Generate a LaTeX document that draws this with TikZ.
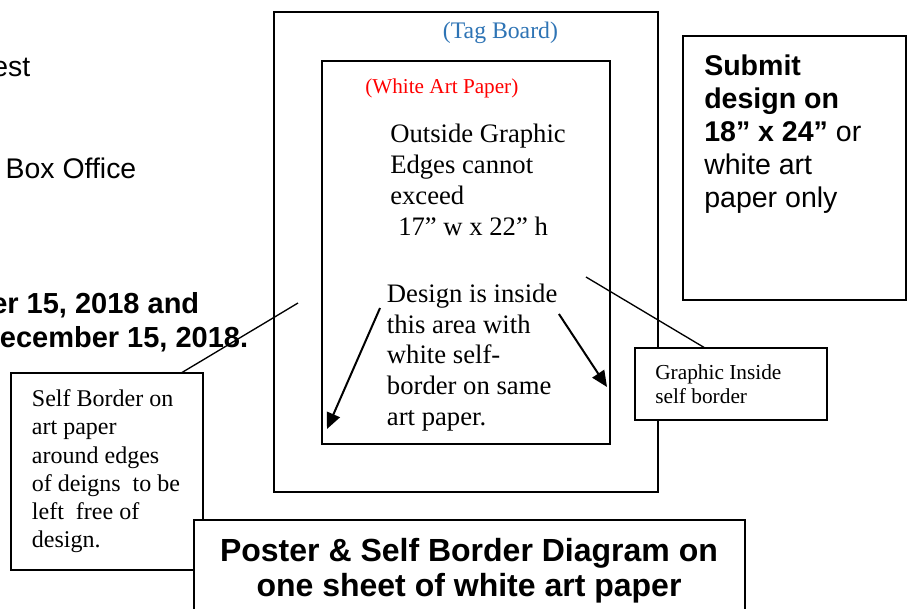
\documentclass[tikz,border=0pt]{standalone}
\usepackage{fontspec}
\setmainfont{Liberation Serif}
\newfontfamily\arialfont{Liberation Sans}
\usetikzlibrary{arrows.meta}
\definecolor{tagblue}{RGB}{46,116,181}

\tikzset{
  box/.style={draw, line width=1.5pt, fill=white, inner sep=0pt, outer sep=0pt, anchor=north west},
  note/.style={inner sep=0pt, anchor=north west, align=left},
  frag/.style={inner sep=0pt, anchor=base east, font=\arialfont\fontsize{21.3}{25}\selectfont},
  link/.style={line width=1pt},
  pointer/.style={line width=1.5pt, -{Triangle[length=12pt,width=10.5pt]}}
}

\begin{document}
\begin{tikzpicture}[x=0.75pt, y=-0.75pt]
    \useasboundingbox (0,0) rectangle (910,608);
    \clip (0,0) rectangle (910,608);

    % boards
    \node[box, minimum width=288pt, minimum height=360pt] (tag) at (274,12) {};
    \node[box, minimum width=216pt, minimum height=287.25pt] (art) at (322,61) {};
    \node[box, minimum width=167.25pt, minimum height=198pt] (submit) at (682.5,36) {};

    \node[inner sep=0pt, anchor=base west, text=tagblue, font=\fontsize{17.8}{21}\selectfont] (tagtxt) at (442.7,38.3) {(Tag Board)};
    \node[inner sep=0pt, anchor=base west, text=red, font=\fontsize{15.9}{19}\selectfont] (arttxt) at (365,93.3) {(White Art Paper)};
    \node[note, font=\fontsize{20}{23.25}\selectfont] (limit) at (390,123.5) {Outside Graphic\\ Edges cannot\\ exceed\\ \hspace*{6pt}17” w x 22” h};
    \node[note, font=\fontsize{20}{23}\selectfont] (design) at (386.7,283.6) {Design is inside\\ this area with\\ white self-\\ border on same\\ art paper.};
    \node[note, font=\arialfont\fontsize{21.4}{24.75}\selectfont] (submittxt) at (704,54.6) {\textbf{Submit}\\ \textbf{design on}\\ \textbf{18” x 24”} or\\ white art\\ paper only};

    % cut text on the left
    \node[frag] (frag1) at (30.5,76.7) {est};
    \node[frag] (frag2) at (136.5,178.3) {Box Office};
    \node[frag, font=\arialfont\bfseries\fontsize{21.75}{25}\selectfont] (frag3) at (199.5,313) {er 15, 2018 and};
    \node[frag, font=\arialfont\bfseries\fontsize{21.75}{25}\selectfont] (frag4) at (248.5,347) {ecember 15, 2018.};

    % arrows from the design text
    \coordinate (lefttip) at (327,429);
    \coordinate (righttip) at (607,387);
    \draw[pointer] ([xshift=-5pt,yshift=-18.3pt]design.north west) -- (lefttip);
    \draw[pointer] ([xshift=1pt,yshift=-22.8pt]design.north east) -- (righttip);

    % callouts
    \node[box, minimum width=144pt, minimum height=147.75pt] (self) at (11,372.5) {};
    \node[note, font=\fontsize{18}{21.2}\selectfont] (selftxt) at (31.7,389.3) {Self Border on\\ art paper\\ around edges\\ of deigns~ to be\\ left~ free of\\ design.};
    \node[box, minimum width=144pt, minimum height=54pt] (graphic) at (635,348) {};
    \node[note, font=\fontsize{16}{18}\selectfont] (graphictxt) at (655,364.8) {Graphic Inside\\ self border};

    \coordinate (selfpt) at (298,303);
    \coordinate (graphpt) at (586,277);
    \draw[link] (selfpt) -- ([xshift=-15.75pt]self.north east);
    \draw[link] (graphpt) -- ([xshift=52.5pt]graphic.north west);

    % title
    \node[box, minimum width=413.6pt, minimum height=90pt] (title) at (193.5,519.5) {};
    \node[inner sep=0pt, anchor=north, align=center, font=\arialfont\bfseries\fontsize{24}{26.25}\selectfont] (titletxt) at (469,538) {Poster \& Self Border Diagram on\\ one sheet of white art paper};
\end{tikzpicture}
\end{document}
